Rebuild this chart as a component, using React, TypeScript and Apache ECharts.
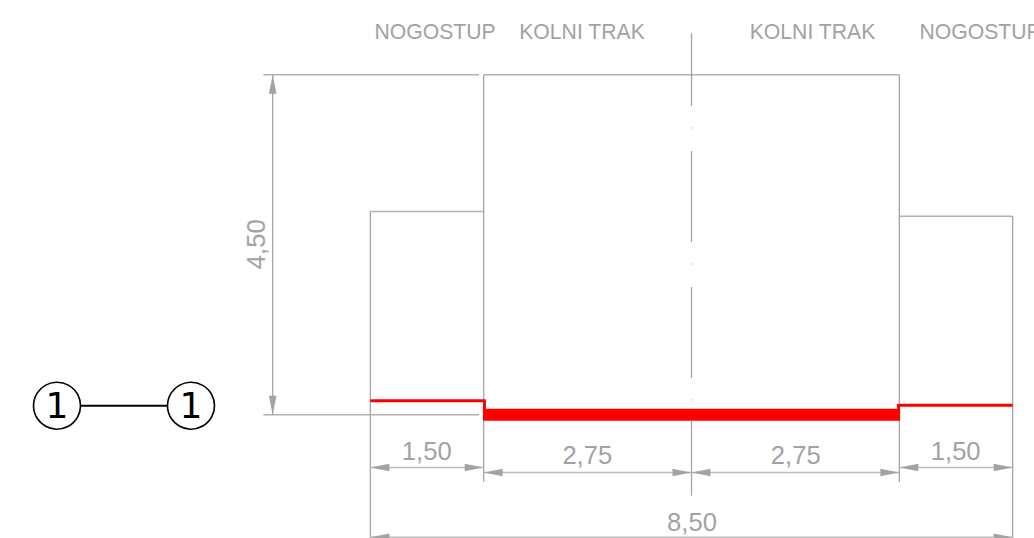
import React, { useEffect, useRef } from "react";
import * as echarts from "echarts";

// All lengths in metres, measured from the road axis (x) and the road surface (y).
const outlineTop = [[-2.75, 4.5], [2.75, 4.5]];
const leftWalkTop = [[-4.25, 2.69], [-2.75, 2.69]];
const rightWalkTop = [[2.75, 2.625], [4.25, 2.625]];
const extensionH = [
  [[-5.666, 4.5], [-2.81, 4.5]],
  [[-5.666, 0], [-2.81, 0]],
];
const extensionV = [
  [[-4.25, 2.69], [-4.25, -1.64]],
  [[-2.75, 4.5], [-2.75, -0.89]],
  [[2.75, 4.5], [2.75, -0.89]],
  [[4.25, 2.625], [4.25, -1.64]],
];
const axisDashes = [
  [[0, 5.05], [0, 4.085]],
  [[0, 3.489], [0, 2.285]],
  [[0, 1.69], [0, 0.486]],
  [[0, -0.083], [0, -1.072]],
];
const axisDots = [3.794, 1.994, 0.195];
const dimensions = [
  [[-4.25, -0.699], [-2.75, -0.699]],
  [[-2.75, -0.765], [0, -0.765]],
  [[0, -0.765], [2.75, -0.765]],
  [[2.75, -0.699], [4.25, -0.699]],
  [[-4.25, -1.622], [4.25, -1.622]],
  [[-5.542, 0], [-5.542, 4.5]],
];
const redLeft = [[-4.25, 0.185], [-2.74, 0.185], [-2.74, 0]];
const redRight = [[2.74, 0], [2.74, 0.124], [4.25, 0.124]];
const redRoad = [[-2.76, 0], [2.76, 0]];
const sectionLine = [[-8.396, 0.119], [-6.623, 0.119]];
const sectionMarks = [[-8.396, 0.119, "1"], [-6.623, 0.119, "1"]];
const headings = [
  [-3.394, 5.077, "NOGOSTUP"],
  [-1.449, 5.077, "KOLNI TRAK"],
  [1.601, 5.077, "KOLNI TRAK"],
  [3.818, 5.077, "NOGOSTUP"],
];
const dimLabels = [
  [-3.504, -0.476, "1,50", 0],
  [-1.379, -0.529, "2,75", 0],
  [1.379, -0.529, "2,75", 0],
  [3.496, -0.476, "1,50", 0],
  [0.007, -1.416, "8,50", 0],
  [-5.763, 2.255, "4,50", 1],
];

const GRAY_V = "#a4a4a4";
const GRAY_H = "#b2b2b2";
const TEXT = "#a2a2a2";
const FONT = '"Liberation Sans", Arial, sans-serif';

const line = (data: number[][], color: string, width: number, z = 2) => ({
  type: "line",
  data,
  symbol: "none",
  silent: true,
  z,
  lineStyle: { color, width, cap: "butt", join: "miter" },
});

const App = () => {
  const ref = useRef<HTMLDivElement>(null);
  useEffect(() => {
    const chart = echarts.init(ref.current!, null, { renderer: "svg" });
    const arrowData = dimensions.flatMap(([a, b]) => [
      [a[0], a[1], b[0] > a[0] ? 1 : 0, b[1] > a[1] ? 1 : 0],
      [b[0], b[1], b[0] > a[0] ? -1 : 0, b[1] > a[1] ? -1 : 0],
    ]);
    chart.setOption({
      animation: false,
      backgroundColor: "#ffffff",
      grid: { left: 0, right: 0, top: 0, bottom: 0 },
      xAxis: { type: "value", min: -9.1505, max: 4.5322, show: false },
      yAxis: { type: "value", min: -1.6316, max: 5.4876, show: false },
      series: [
        line(outlineTop, GRAY_H, 1.5),
        line(leftWalkTop, GRAY_H, 1.5),
        line(rightWalkTop, GRAY_H, 1.5),
        ...extensionH.map((d) => line(d, GRAY_H, 1.5)),
        ...extensionV.map((d) => line(d, GRAY_V, 1.3)),
        ...axisDashes.map((d) => line(d, GRAY_V, 1.3)),
        ...axisDots.map((y) => line([[0, y + 0.012], [0, y - 0.012]], "#cfcfcf", 1)),
        ...dimensions.map((d) => line(d, d[0][0] === d[1][0] ? GRAY_V : "#bdbdbd", d[0][0] === d[1][0] ? 1.3 : 1.5)),
        {
          type: "custom",
          silent: true,
          z: 3,
          data: arrowData,
          renderItem: (_: any, api: any) => {
            const [px, py] = api.coord([api.value(0), api.value(1)]);
            const dx = api.value(2);
            const dy = -api.value(3);
            const L = 19;
            const W = 3.8;
            return {
              type: "polygon",
              shape: {
                points: [
                  [px, py],
                  [px + dx * L - dy * W, py + dy * L + dx * W],
                  [px + dx * L + dy * W, py + dy * L - dx * W],
                ],
              },
              style: { fill: "#a3a3a3" },
            };
          },
        },
        line(redLeft, "#ff0000", 3, 5),
        line(redRight, "#ff0000", 3, 5),
        line(redRoad, "#ff0000", 12, 6),
        line(sectionLine, "#000000", 2, 5),
        {
          type: "scatter",
          silent: true,
          z: 7,
          data: sectionMarks.map((m) => [m[0], m[1]]),
          symbol: "circle",
          symbolSize: 47,
          itemStyle: { color: "#ffffff", borderColor: "#000000", borderWidth: 1.6, opacity: 1 },
          label: {
            show: true,
            position: "inside",
            formatter: (p: any) => String(sectionMarks[p.dataIndex][2]),
            color: "#000000",
            fontSize: 36,
            fontFamily: '"DejaVu Sans", sans-serif',
          },
        },
        {
          type: "custom",
          silent: true,
          z: 8,
          data: headings.map((h, i) => [h[0], h[1], i]),
          renderItem: (_: any, api: any) => {
            const [px, py] = api.coord([api.value(0), api.value(1)]);
            return {
              type: "text",
              x: px,
              y: py,
              style: {
                text: String(headings[api.value(2)][2]),
                fill: TEXT,
                font: `21.2px ${FONT}`,
                align: "center",
                verticalAlign: "middle",
              },
            };
          },
        },
        {
          type: "custom",
          silent: true,
          z: 8,
          data: dimLabels.map((h, i) => [h[0], h[1], i]),
          renderItem: (_: any, api: any) => {
            const [px, py] = api.coord([api.value(0), api.value(1)]);
            const item = dimLabels[api.value(2)];
            return {
              type: "text",
              x: px,
              y: py,
              rotation: item[3] ? Math.PI / 2 : 0,
              style: {
                text: String(item[2]),
                fill: TEXT,
                font: `25.6px ${FONT}`,
                align: "center",
                verticalAlign: "middle",
              },
            };
          },
        },
      ],
    });
    return () => chart.dispose();
  }, []);
  return (
    <div
      ref={ref}
      style={{ position: "absolute", left: 0, top: 0, width: 1034, height: 538, overflow: "hidden" }}
    />
  );
};

export default App;
